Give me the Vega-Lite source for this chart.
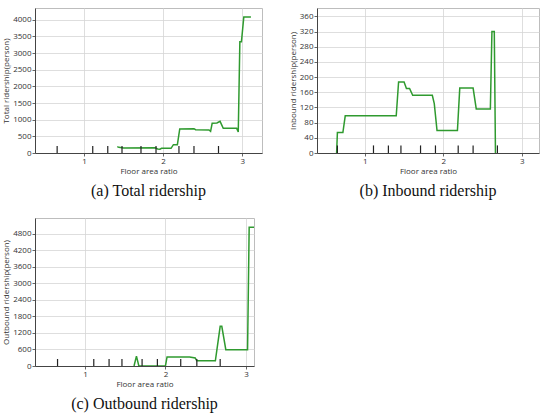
{
  "$schema": "https://vega.github.io/schema/vega-lite/v6.json",
  "padding": {"left": 2, "top": 7, "right": 5, "bottom": 0},
  "background": "white",
  "config": {
    "view": {"stroke": "#bdbdbd", "strokeWidth": 1},
    "axis": {
      "labelFont": "Open Sans",
      "labelFontSize": 8,
      "labelColor": "#333",
      "labelOverlap": false,
      "titleFont": "Open Sans",
      "titleFontSize": 8,
      "titleFontWeight": "normal",
      "titleColor": "#333",
      "gridColor": "#d6d6d6",
      "gridWidth": 0.8,
      "domainColor": "#444",
      "tickColor": "#666",
      "tickSize": 3,
      "labelPadding": 1,
      "titlePadding": 2
    },
    "title": {
      "font": "Liberation Serif",
      "fontSize": 16,
      "fontWeight": "normal",
      "color": "#111",
      "orient": "bottom",
      "anchor": "middle",
      "offset": 8
    },
    "concat": {"spacing": 25}
  },
  "datasets": {
    "total": [
      {"far": 1.42, "ridership": 190}, {"far": 1.44, "ridership": 170}, {"far": 1.50, "ridership": 150},
      {"far": 1.90, "ridership": 155}, {"far": 1.93, "ridership": 120}, {"far": 1.96, "ridership": 115},
      {"far": 1.98, "ridership": 140}, {"far": 2.10, "ridership": 140}, {"far": 2.13, "ridership": 250},
      {"far": 2.18, "ridership": 250}, {"far": 2.21, "ridership": 720}, {"far": 2.39, "ridership": 730},
      {"far": 2.41, "ridership": 700}, {"far": 2.58, "ridership": 690}, {"far": 2.60, "ridership": 650},
      {"far": 2.62, "ridership": 890}, {"far": 2.68, "ridership": 900}, {"far": 2.72, "ridership": 950},
      {"far": 2.76, "ridership": 740}, {"far": 2.93, "ridership": 740}, {"far": 2.95, "ridership": 630},
      {"far": 2.97, "ridership": 3340}, {"far": 2.99, "ridership": 3340}, {"far": 3.02, "ridership": 4080},
      {"far": 3.11, "ridership": 4080}
    ],
    "inbound": [
      {"far": 0.64, "ridership": 0}, {"far": 0.65, "ridership": 54}, {"far": 0.72, "ridership": 54},
      {"far": 0.75, "ridership": 98}, {"far": 1.40, "ridership": 98}, {"far": 1.43, "ridership": 187},
      {"far": 1.50, "ridership": 187}, {"far": 1.53, "ridership": 170}, {"far": 1.57, "ridership": 170},
      {"far": 1.61, "ridership": 152}, {"far": 1.86, "ridership": 152}, {"far": 1.885, "ridership": 130},
      {"far": 1.92, "ridership": 59}, {"far": 2.18, "ridership": 59}, {"far": 2.21, "ridership": 171},
      {"far": 2.38, "ridership": 171}, {"far": 2.42, "ridership": 116}, {"far": 2.60, "ridership": 116},
      {"far": 2.62, "ridership": 320}, {"far": 2.65, "ridership": 320}, {"far": 2.665, "ridership": 0}
    ],
    "outbound": [
      {"far": 1.61, "ridership": 0}, {"far": 1.64, "ridership": 360}, {"far": 1.67, "ridership": 0},
      {"far": 2.00, "ridership": 0}, {"far": 2.02, "ridership": 330}, {"far": 2.30, "ridership": 330},
      {"far": 2.37, "ridership": 290}, {"far": 2.39, "ridership": 190}, {"far": 2.62, "ridership": 190},
      {"far": 2.68, "ridership": 1440}, {"far": 2.70, "ridership": 1440}, {"far": 2.75, "ridership": 590},
      {"far": 3.02, "ridership": 590}, {"far": 3.04, "ridership": 5030}, {"far": 3.10, "ridership": 5030}
    ],
    "rug_total": [
      {"far": 0.66}, {"far": 1.11}, {"far": 1.30}, {"far": 1.48}, {"far": 1.72},
      {"far": 1.91}, {"far": 2.20}, {"far": 2.39}, {"far": 2.70}
    ],
    "rug_inbound": [
      {"far": 0.65}, {"far": 1.11}, {"far": 1.30}, {"far": 1.46}, {"far": 1.71},
      {"far": 1.90}, {"far": 2.19}, {"far": 2.38}, {"far": 2.69}
    ],
    "rug_outbound": [
      {"far": 0.66}, {"far": 1.11}, {"far": 1.30}, {"far": 1.46}, {"far": 1.71},
      {"far": 1.90}, {"far": 2.19}, {"far": 2.39}, {"far": 2.68}
    ]
  },
  "vconcat": [
    {
      "hconcat": [
        {
          "width": 227,
          "height": 145,
          "title": "(a) Total ridership",
          "layer": [
            {
              "data": {"name": "total"},
              "mark": {"type": "line", "color": "#2f9a2f", "strokeWidth": 1.5, "clip": true},
              "encoding": {
                "x": {"field": "far", "type": "quantitative", "scale": {"domain": [0.38, 3.25], "nice": false, "zero": false},
                      "axis": {"title": "Floor area ratio", "values": [1, 2, 3], "format": "d"}},
                "y": {"field": "ridership", "type": "quantitative", "scale": {"domain": [0, 4350], "nice": false},
                      "axis": {"title": "Total ridership(person)", "format": "d", "values": [0, 500, 1000, 1500, 2000, 2500, 3000, 3500, 4000]}}
              }
            },
            {
              "data": {"name": "rug_total"},
              "mark": {"type": "rule", "color": "#222", "strokeWidth": 1.2},
              "encoding": {
                "x": {"field": "far", "type": "quantitative",
                      "axis": {"title": "Floor area ratio", "values": [1, 2, 3], "format": "d"}},
                "y": {"datum": 0,
                      "axis": {"title": "Total ridership(person)", "format": "d", "values": [0, 500, 1000, 1500, 2000, 2500, 3000, 3500, 4000]}},
                "y2": {"datum": 210}
              }
            }
          ]
        },
        {
          "width": 222,
          "height": 145,
          "title": "(b) Inbound ridership",
          "layer": [
            {
              "data": {"name": "inbound"},
              "mark": {"type": "line", "color": "#2f9a2f", "strokeWidth": 1.5, "clip": true},
              "encoding": {
                "x": {"field": "far", "type": "quantitative", "scale": {"domain": [0.39, 3.22], "nice": false, "zero": false},
                      "axis": {"title": "Floor area ratio", "values": [1, 2, 3], "format": "d"}},
                "y": {"field": "ridership", "type": "quantitative", "scale": {"domain": [0, 382], "nice": false},
                      "axis": {"title": "Inbound ridership(person)", "format": "d", "values": [0, 40, 80, 120, 160, 200, 240, 280, 320, 360]}}
              }
            },
            {
              "data": {"name": "rug_inbound"},
              "mark": {"type": "rule", "color": "#222", "strokeWidth": 1.2},
              "encoding": {
                "x": {"field": "far", "type": "quantitative",
                      "axis": {"title": "Floor area ratio", "values": [1, 2, 3], "format": "d"}},
                "y": {"datum": 0,
                      "axis": {"title": "Inbound ridership(person)", "format": "d", "values": [0, 40, 80, 120, 160, 200, 240, 280, 320, 360]}},
                "y2": {"datum": 20}
              }
            }
          ]
        }
      ]
    },
    {
      "width": 219,
      "height": 148,
      "title": "(c) Outbound ridership",
      "layer": [
        {
          "data": {"name": "outbound"},
          "mark": {"type": "line", "color": "#2f9a2f", "strokeWidth": 1.5, "clip": true},
          "encoding": {
            "x": {"field": "far", "type": "quantitative", "scale": {"domain": [0.38, 3.1], "nice": false, "zero": false},
                  "axis": {"title": "Floor area ratio", "values": [1, 2, 3], "format": "d"}},
            "y": {"field": "ridership", "type": "quantitative", "scale": {"domain": [0, 5370], "nice": false},
                  "axis": {"title": "Outbound ridership(person)", "format": "d", "values": [0, 600, 1200, 1800, 2400, 3000, 3600, 4200, 4800]}}
          }
        },
        {
          "data": {"name": "rug_outbound"},
          "mark": {"type": "rule", "color": "#222", "strokeWidth": 1.2},
          "encoding": {
            "x": {"field": "far", "type": "quantitative",
                  "axis": {"title": "Floor area ratio", "values": [1, 2, 3], "format": "d"}},
            "y": {"datum": 0,
                  "axis": {"title": "Outbound ridership(person)", "format": "d", "values": [0, 600, 1200, 1800, 2400, 3000, 3600, 4200, 4800]}},
            "y2": {"datum": 254}
          }
        }
      ]
    }
  ],
  "spacing": 17
}
